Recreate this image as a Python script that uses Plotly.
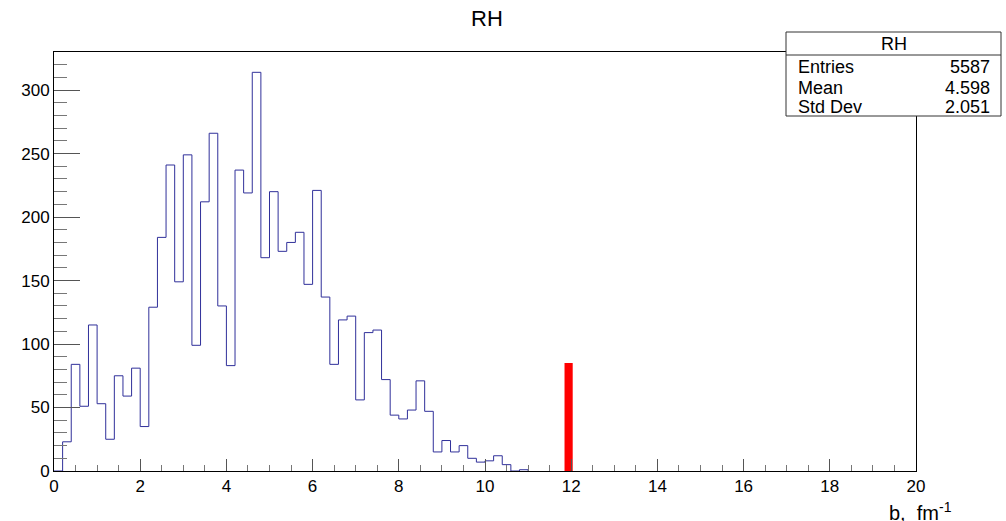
import plotly.graph_objects as go

# Histogram data: bins of width 0.2 starting at 0 (remaining bins up to 20 are empty)
bin_width = 0.2
counts = [0, 23, 84, 51, 115, 53, 25, 75, 59, 81,
          35, 129, 184, 241, 149, 249, 99, 212, 266, 130,
          83, 237, 219, 314, 168, 220, 173, 180, 188, 147,
          221, 137, 84, 119, 122, 56, 109, 111, 72, 44,
          41, 48, 71, 47, 15, 24, 15, 20, 10, 7,
          8, 12, 5, 0, 1]
x_min, x_max = 0, 20

# Red marker bar
marker_x = [11.94]
marker_h = [85]
marker_w = 0.19

# Stats box
stats_title = "RH"
stats_labels = ["Entries", "Mean", "Std Dev"]
stats_values = ["5587", "4.598", "2.051"]

edges = [x_min + i * bin_width for i in range(len(counts))]
step_x = edges + [edges[-1] + bin_width]
step_y = counts + [0]

L, R, T, B = 54, 90, 52, 50
W, H = 1006, 521
pw, ph = W - L - R, H - T - B


def px(x):
    return (x - L) / pw


def py(y):
    return (H - B - y) / ph


fig = go.Figure()
fig.add_trace(go.Scatter(x=step_x, y=step_y, mode="lines", line_shape="hv",
                         line=dict(color="#30309a", width=1), hoverinfo="skip"))
fig.add_trace(go.Bar(x=marker_x, y=marker_h, width=marker_w,
                     marker=dict(color="#ff0000", line=dict(width=0))))

font = "Liberation Sans, Arial, sans-serif"
fig.update_layout(
    width=W, height=H,
    margin=dict(l=L, r=R, t=T, b=B),
    paper_bgcolor="white", plot_bgcolor="white",
    showlegend=False,
    font=dict(family=font, color="black", size=17),
    title=dict(text="RH", x=487 / W, xref="container",
               y=1 - 18 / H, yanchor="middle", xanchor="center",
               font=dict(size=22, family=font)),
    xaxis=dict(range=[x_min, x_max], dtick=2, tick0=0, ticks="inside", ticklen=12,
               tickcolor="#555", showgrid=False, zeroline=False,
               showline=True, linecolor="black", linewidth=1, mirror=True,
               minor=dict(dtick=0.5, ticks="inside", ticklen=6, tickcolor="#777"),
               tickfont=dict(size=17), fixedrange=True),
    yaxis=dict(range=[0, 330], dtick=50, tick0=0, ticks="inside", ticklen=26,
               tickcolor="#555", showgrid=False, zeroline=False,
               showline=True, linecolor="black", linewidth=1, mirror=True,
               minor=dict(dtick=10, ticks="inside", ticklen=13, tickcolor="#777"),
               tickfont=dict(size=17), fixedrange=True),
)

# Axis title
fig.add_annotation(text="b,&nbsp;&nbsp;fm<sup>-1</sup>", xref="paper", yref="paper",
                   x=px(887), y=py(511), xanchor="left", yanchor="middle",
                   showarrow=False, font=dict(size=20, family=font))

# Stats box
bx0, bx1, by0, by1, bdiv = 786, 1001, 32, 116, 55
fig.add_shape(type="rect", xref="paper", yref="paper",
              x0=px(bx0), x1=px(bx1), y0=py(by1), y1=py(by0),
              line=dict(color="#333", width=1), fillcolor="white", layer="above")
fig.add_shape(type="line", xref="paper", yref="paper",
              x0=px(bx0), x1=px(bx1), y0=py(bdiv), y1=py(bdiv),
              line=dict(color="#333", width=1), layer="above")
fig.add_annotation(text=stats_title, xref="paper", yref="paper",
                   x=px((bx0 + bx1) / 2), y=py(44), xanchor="center", yanchor="middle",
                   showarrow=False, font=dict(size=18, family=font))
row_y = [66.5, 87.5, 106.5]
for lab, val, ry in zip(stats_labels, stats_values, row_y):
    fig.add_annotation(text=lab, xref="paper", yref="paper", x=px(796), y=py(ry),
                       xanchor="left", yanchor="middle", showarrow=False,
                       font=dict(size=18, family=font))
    fig.add_annotation(text=val, xref="paper", yref="paper", x=px(992), y=py(ry),
                       xanchor="right", yanchor="middle", showarrow=False,
                       font=dict(size=18, family=font))

fig.write_html("out.html")
